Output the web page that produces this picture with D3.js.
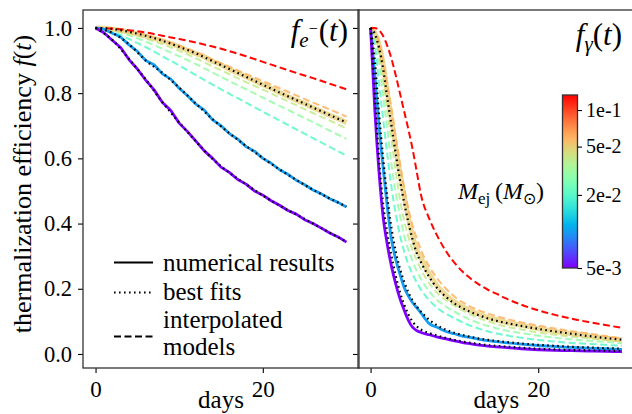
<!DOCTYPE html>
<html><head><meta charset="utf-8">
<script src="https://cdn.jsdelivr.net/npm/d3@7"></script>
<style>body{margin:0;background:#fff}</style>
</head><body>
<svg id="c" width="632" height="414"></svg>
<script>
// ---------------- DATA ----------------
// Left panel f_e-(t): days
const daysE = [0,2,4,6,8,10,12,14,16,18,20,22,24,26,28,30];
const daysE1 = [0,1,2,3,4,5,6,7,8,9,10,11,12,13,14,15,16,17,18,19,20,21,22,23,24,25,26,27,28,29,30];
// interpolated models (dashed)
const eRed    = [1,0.998,0.993,0.986,0.976,0.966,0.955,0.943,0.929,0.913,0.896,0.879,0.862,0.846,0.829,0.812];
const eOrange = [1,0.998,0.990,0.978,0.963,0.945,0.926,0.903,0.881,0.859,0.837,0.815,0.793,0.771,0.750,0.728];
const eYG     = [1,0.995,0.984,0.968,0.950,0.930,0.907,0.882,0.858,0.834,0.811,0.787,0.763,0.739,0.716,0.692];
const eLG     = [1,0.993,0.978,0.958,0.936,0.913,0.889,0.863,0.837,0.812,0.786,0.761,0.736,0.711,0.685,0.660];
const eTeal   = [1,0.988,0.966,0.941,0.913,0.885,0.855,0.826,0.798,0.771,0.743,0.716,0.689,0.662,0.635,0.608];
// best fits (dotted)
const eFitKhaki  = [1,0.997,0.988,0.976,0.961,0.942,0.922,0.898,0.874,0.850,0.826,0.802,0.779,0.756,0.733,0.710];
const eFitBlue   = [1,0.985,0.950,0.900,0.862,0.817,0.768,0.720,0.677,0.638,0.601,0.566,0.534,0.504,0.477,0.452];
const eFitPurple = [1,0.963,0.905,0.842,0.772,0.710,0.652,0.598,0.556,0.520,0.486,0.455,0.428,0.400,0.372,0.344];
// numerical results (solid)
const eNumPurple = [1,0.985,0.962,0.940,0.903,0.874,0.840,0.810,0.771,0.747,0.708,0.682,0.653,0.623,0.600,0.573,0.557,0.535,0.521,0.500,0.487,0.470,0.456,0.440,0.429,0.412,0.400,0.386,0.371,0.359,0.343];
const eNumBlue   = [1,0.996,0.984,0.972,0.948,0.928,0.900,0.887,0.859,0.843,0.815,0.792,0.766,0.748,0.718,0.700,0.676,0.659,0.636,0.622,0.600,0.585,0.565,0.551,0.533,0.519,0.503,0.491,0.476,0.465,0.451];
const eNumKhaki  = [1,0.999,0.996,0.993,0.987,0.982,0.975,0.968,0.960,0.952,0.943,0.931,0.921,0.912,0.897,0.887,0.873,0.862,0.850,0.838,0.826,0.815,0.802,0.790,0.778,0.768,0.755,0.744,0.732,0.722,0.709];

// Right panel f_gamma(t): days
const daysG = [0,0.5,1,1.5,2,2.5,3,3.5,4,4.5,5,5.5,6,7,8,9,10,11,12,13,14,15,16,18,20,22,24,26,28,30];
const gRed    = [1,1,0.993,0.975,0.945,0.905,0.855,0.800,0.745,0.690,0.630,0.560,0.490,0.415,0.360,0.315,0.280,0.252,0.230,0.212,0.197,0.185,0.172,0.151,0.134,0.120,0.108,0.098,0.089,0.080];
const gOrange = [1,0.990,0.960,0.900,0.825,0.750,0.665,0.585,0.510,0.445,0.395,0.355,0.320,0.268,0.230,0.200,0.176,0.158,0.144,0.133,0.124,0.116,0.109,0.097,0.087,0.078,0.070,0.063,0.055,0.048];
const gYG     = [1,0.980,0.930,0.840,0.745,0.655,0.560,0.475,0.410,0.360,0.320,0.288,0.260,0.217,0.186,0.165,0.148,0.133,0.120,0.109,0.100,0.092,0.085,0.075,0.066,0.059,0.053,0.048,0.043,0.038];
const gLG     = [1,0.970,0.900,0.790,0.690,0.580,0.495,0.425,0.365,0.320,0.285,0.255,0.230,0.192,0.164,0.145,0.130,0.116,0.104,0.094,0.086,0.079,0.073,0.064,0.056,0.050,0.045,0.041,0.037,0.033];
const gTeal   = [1,0.950,0.830,0.720,0.610,0.510,0.430,0.365,0.315,0.275,0.245,0.220,0.198,0.165,0.140,0.123,0.110,0.097,0.086,0.077,0.069,0.063,0.058,0.050,0.043,0.038,0.034,0.031,0.028,0.025];
const gNumKhaki  = [1,0.985,0.950,0.890,0.800,0.720,0.635,0.555,0.485,0.420,0.362,0.322,0.295,0.245,0.207,0.180,0.160,0.145,0.132,0.121,0.112,0.105,0.098,0.088,0.078,0.069,0.062,0.056,0.049,0.043];
const gFitKhaki  = [1,0.982,0.940,0.875,0.785,0.700,0.615,0.535,0.465,0.405,0.352,0.310,0.282,0.236,0.200,0.175,0.155,0.140,0.128,0.118,0.109,0.102,0.096,0.086,0.077,0.069,0.062,0.055,0.049,0.044];
const gNumBlue   = [1,0.860,0.700,0.570,0.450,0.350,0.290,0.245,0.205,0.178,0.158,0.142,0.126,0.093,0.081,0.069,0.062,0.055,0.050,0.045,0.041,0.038,0.035,0.030,0.026,0.023,0.020,0.018,0.016,0.014];
const gFitBlue   = [1,0.900,0.740,0.600,0.480,0.385,0.315,0.262,0.222,0.190,0.165,0.146,0.130,0.105,0.087,0.074,0.065,0.058,0.052,0.047,0.043,0.040,0.037,0.032,0.028,0.025,0.022,0.020,0.018,0.016];
const gNumPurple = [1,0.750,0.560,0.420,0.335,0.268,0.215,0.170,0.135,0.104,0.082,0.072,0.066,0.059,0.052,0.046,0.040,0.035,0.031,0.027,0.024,0.022,0.020,0.016,0.013,0.011,0.010,0.009,0.008,0.007];
const gFitPurple = [1,0.800,0.600,0.460,0.370,0.300,0.240,0.190,0.152,0.122,0.100,0.085,0.075,0.064,0.056,0.049,0.043,0.038,0.034,0.030,0.027,0.025,0.023,0.019,0.016,0.014,0.012,0.011,0.010,0.009];

// ejecta masses (Msun) of each curve -> colour
const massPurple = 0.005, massBlue = 0.01, massTeal = 0.02, massLG = 0.03, massYG = 0.04, massKhaki = 0.05, massOrange = 0.06, massRed = 0.13;
const yTicks = [0,0.2,0.4,0.6,0.8,1.0];
const xTicks = [0,20];
const cbTicks = [0.005,0.02,0.05,0.1];
const cbLabels = ["5e-3","2e-2","5e-2","1e-1"];
const legendLabels = ["numerical results","best fits","interpolated","models"];

// ---------------- CHART ----------------
const FAM = '"Liberation Serif", serif';
const svg = d3.select("#c");
function T(sel){ return sel.attr("font-family", "Liberation Serif").style("font-family", FAM).style("fill", "#000"); }
function rainbow(t){
  t = Math.max(0, Math.min(1, t));
  const r = Math.min(1, Math.abs(2*t - 0.5)), g = Math.sin(Math.PI*t), b = Math.cos(Math.PI*t/2);
  return d3.rgb(r*255, g*255, Math.max(0,b)*255).formatHex();
}
const mScale = d3.scaleLog().domain([0.005, 0.133]).range([0,1]).clamp(true);
const col = m => rainbow(mScale(m));

const y = d3.scaleLinear().domain([-0.043, 1.055]).range([368, 10]);
const xL = d3.scaleLinear().domain([-1.5, 31.5]).range([83, 359]);
const xR = d3.scaleLinear().domain([-1.5, 31.5]).range([358, 634.6]);

const defs = svg.append("defs");
[["clipL", xL], ["clipR", xR]].forEach(([id, xs]) => {
  defs.append("clipPath").attr("id", id).append("rect")
    .attr("x", xs.range()[0]).attr("y", 10)
    .attr("width", xs.range()[1] - xs.range()[0]).attr("height", 358);
});

function drawLine(g, xs, days, vals, opts){
  const line = d3.line().x((d,i) => xs(days[i])).y(d => y(d))
    .curve(opts.curve || d3.curveMonotoneX);
  g.append("path").datum(vals).attr("d", line)
    .attr("fill", "none").attr("stroke", opts.color)
    .attr("stroke-width", opts.width)
    .attr("stroke-dasharray", opts.dash || null)
    .attr("stroke-opacity", opts.opacity || 1)
    .attr("stroke-linejoin", "round");
}
const dashS = "7,3.5";
const dotS = "1.6,3.4";

// Left panel
const gL = svg.append("g").attr("clip-path", "url(#clipL)");
drawLine(gL, xL, daysE, eTeal,   {color: col(massTeal),   width: 2, dash: dashS, opacity: 0.85});
drawLine(gL, xL, daysE, eLG,     {color: col(massLG),     width: 2, dash: dashS, opacity: 0.85});
drawLine(gL, xL, daysE, eYG,     {color: col(massYG),     width: 2, dash: dashS, opacity: 0.85});
drawLine(gL, xL, daysE1, eNumKhaki, {color: col(massKhaki), width: 5, opacity: 0.75, curve: d3.curveLinear});
drawLine(gL, xL, daysE, eOrange, {color: col(massOrange), width: 2, dash: dashS, opacity: 0.85});
drawLine(gL, xL, daysE, eRed,    {color: col(massRed),    width: 2, dash: dashS});
drawLine(gL, xL, daysE1, eNumBlue,   {color: col(massBlue),   width: 2.8, curve: d3.curveLinear});
drawLine(gL, xL, daysE1, eNumPurple, {color: col(massPurple), width: 2.8, curve: d3.curveLinear});
drawLine(gL, xL, daysE, eFitKhaki,  {color: "#000", width: 2.2, dash: dotS});
drawLine(gL, xL, daysE, eFitBlue,   {color: "#000", width: 2.2, dash: dotS});
drawLine(gL, xL, daysE, eFitPurple, {color: "#000", width: 2.2, dash: dotS});

// Right panel
const gR = svg.append("g").attr("clip-path", "url(#clipR)");
drawLine(gR, xR, daysG, gTeal,   {color: col(massTeal),   width: 2, dash: dashS, opacity: 0.85});
drawLine(gR, xR, daysG, gLG,     {color: col(massLG),     width: 2, dash: dashS, opacity: 0.85});
drawLine(gR, xR, daysG, gYG,     {color: col(massYG),     width: 2, dash: dashS, opacity: 0.85});
drawLine(gR, xR, daysG, gNumKhaki, {color: col(massKhaki), width: 5, opacity: 0.75});
drawLine(gR, xR, daysG, gOrange, {color: col(massOrange), width: 2, dash: dashS, opacity: 0.85});
drawLine(gR, xR, daysG, gRed,    {color: col(massRed),    width: 2, dash: dashS});
drawLine(gR, xR, daysG, gNumBlue,   {color: col(massBlue),   width: 2.8});
drawLine(gR, xR, daysG, gNumPurple, {color: col(massPurple), width: 2.8});
drawLine(gR, xR, daysG, gFitKhaki,  {color: "#000", width: 2.2, dash: dotS});
drawLine(gR, xR, daysG, gFitBlue,   {color: "#000", width: 2.2, dash: dotS});
drawLine(gR, xR, daysG, gFitPurple, {color: "#000", width: 2.2, dash: dotS});

// Axes
function styleAxis(g, fs){
  g.attr("font-family", "Liberation Serif").attr("font-size", fs);
  g.select(".domain").remove();
  g.selectAll("line").attr("stroke", "#000").attr("stroke-width", 1.1);
  T(g.selectAll("text")).style("font-size", fs + "px");
}
svg.append("g").attr("transform", "translate(83,0)")
  .call(d3.axisLeft(y).tickValues(yTicks).tickFormat(d3.format(".1f")).tickSize(5).tickPadding(6))
  .call(g => styleAxis(g, 22.5));
svg.append("g").attr("transform", "translate(358,0)")
  .call(d3.axisLeft(y).tickValues(yTicks).tickFormat("").tickSize(5))
  .call(g => styleAxis(g, 22.5));
[xL, xR].forEach(xs => {
  svg.append("g").attr("transform", "translate(0,368)")
    .call(d3.axisBottom(xs).tickValues(xTicks).tickFormat(d3.format("d")).tickSize(5).tickPadding(8))
    .call(g => styleAxis(g, 23));
  const cx = (xs.range()[0] + xs.range()[1]) / 2;
  T(svg.append("text")).attr("x", cx).attr("y", 408).attr("text-anchor", "middle")
    .style("font-size", "25px").text("days");
});

// Frames
[xL, xR].forEach(xs => {
  svg.append("rect").attr("x", xs.range()[0]).attr("y", 10)
    .attr("width", xs.range()[1] - xs.range()[0]).attr("height", 358)
    .attr("fill", "none").attr("stroke", "#333").attr("stroke-width", 1.3);
});

// Y label
const yl = T(svg.append("text")).attr("transform", "translate(31,184) rotate(-90)")
  .attr("text-anchor", "middle").style("font-size", "26px");
yl.append("tspan").text("thermalization efficiency ");
yl.append("tspan").style("font-style", "italic").text("f");
yl.append("tspan").text("(");
yl.append("tspan").style("font-style", "italic").text("t");
yl.append("tspan").text(")");

// Panel titles
const t1 = T(svg.append("text")).attr("x", 348).attr("y", 41).attr("text-anchor", "end").style("font-size", "31px");
t1.append("tspan").style("font-style", "italic").text("f");
t1.append("tspan").style("font-style", "italic").style("font-size", "21px").attr("dy", 6).text("e");
t1.append("tspan").style("font-size", "16px").attr("dy", -13).text("\u2212");
t1.append("tspan").attr("dy", 7).attr("dx", 1).text("(");
t1.append("tspan").style("font-style", "italic").text("t");
t1.append("tspan").text(")");

const t2 = T(svg.append("text")).attr("x", 622).attr("y", 45).attr("text-anchor", "end").style("font-size", "31px");
t2.append("tspan").style("font-style", "italic").text("f");
t2.append("tspan").style("font-style", "italic").style("font-size", "21px").attr("dy", 6).text("\u03b3");
t2.append("tspan").attr("dy", -6).text("(");
t2.append("tspan").style("font-style", "italic").text("t");
t2.append("tspan").text(")");

// Legend
const lg = svg.append("g");
const legRows = [
  {y: 262.5, dash: null, tx: [legendLabels[0]], ty: [271]},
  {y: 292.5, dash: "1.6,3.4", tx: [legendLabels[1]], ty: [300]},
  {y: 336.5, dash: "7,3.5", tx: [legendLabels[2], legendLabels[3]], ty: [328, 355]}
];
legRows.forEach(r => {
  lg.append("line").attr("x1", 114).attr("x2", 153).attr("y1", r.y).attr("y2", r.y)
    .attr("stroke", "#000").attr("stroke-width", 2.2).attr("stroke-dasharray", r.dash);
  r.tx.forEach((t, i) => T(lg.append("text")).attr("x", 163).attr("y", r.ty[i]).style("font-size", "25px").text(t));
});

// Colorbar
const cbY = d3.scaleLog().domain([0.005, 0.133]).range([268, 95]);
const grad = defs.append("linearGradient").attr("id", "cbg")
  .attr("x1", 0).attr("x2", 0).attr("y1", 1).attr("y2", 0);
d3.range(0, 1.0001, 0.05).forEach(t => grad.append("stop").attr("offset", t).attr("stop-color", rainbow(t)));
svg.append("rect").attr("x", 562.5).attr("y", 95).attr("width", 15).attr("height", 173)
  .attr("fill", "url(#cbg)").attr("stroke", "#333").attr("stroke-width", 1.3);
svg.append("g").attr("transform", "translate(577.5,0)")
  .call(d3.axisRight(cbY).tickValues(cbTicks).tickFormat((d,i) => cbLabels[i]).tickSize(4.5).tickPadding(4))
  .call(g => styleAxis(g, 20));

// Mass label
const ml = T(svg.append("text")).attr("x", 458).attr("y", 199).style("font-size", "24px");
ml.append("tspan").style("font-style", "italic").text("M");
ml.append("tspan").style("font-size", "17px").attr("dy", 5).text("ej");
ml.append("tspan").attr("dy", -5).text("\u2009(");
ml.append("tspan").style("font-style", "italic").text("M");
ml.append("tspan").style("font-size", "16px").attr("dy", 5).text("\u2299");
ml.append("tspan").attr("dy", -5).text(")");
</script>
</body></html>
